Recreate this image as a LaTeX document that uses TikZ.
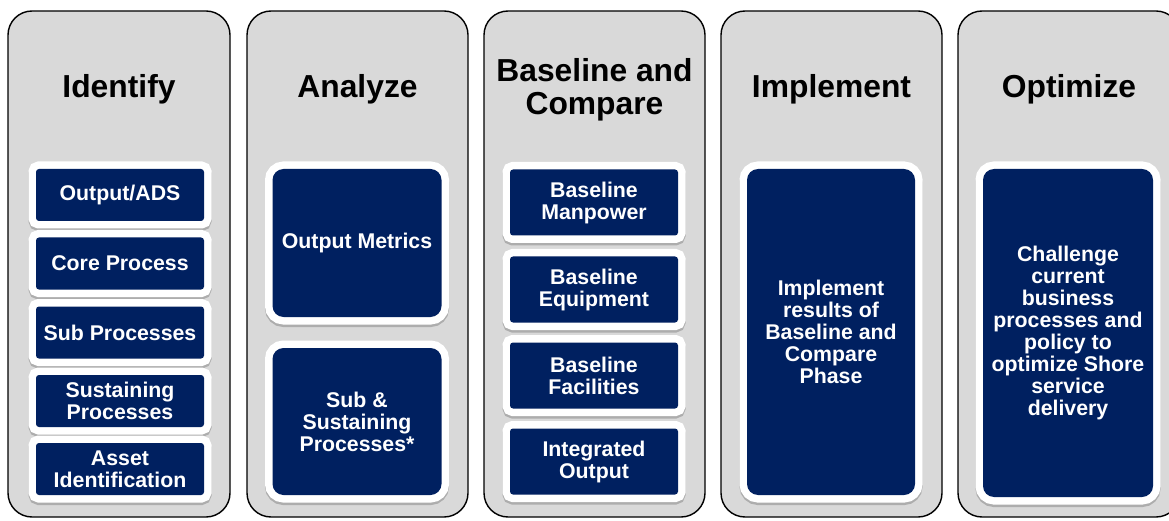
\documentclass[tikz,border=0pt]{standalone}
\usepackage{fontspec}
\setmainfont{Liberation Sans}
\definecolor{navy}{RGB}{0,32,96}
\definecolor{panelgray}{RGB}{217,217,217}
\begin{document}
\begin{tikzpicture}[x=1pt,y=-1pt,
  panel/.style={draw=black, line width=1.4pt, fill=panelgray, rounded corners=24pt},
  heading/.style={font=\fontsize{31.8}{33.5}\selectfont\bfseries, align=center, text=black, inner sep=0pt},
  item/.style={fill=navy, text=white, font=\fontsize{21.3}{22}\selectfont\bfseries,
     align=center, inner sep=0pt, rounded corners=3pt,
     preaction={draw=black, opacity=0.2, line width=15pt, transform canvas={yshift=-2.5pt}},
     preaction={draw=white, line width=15pt}},
  small/.style={item, minimum width=168pt, minimum height=52pt},
  mid/.style={item, minimum width=168pt, minimum height=66pt},
  tall/.style={item, rounded corners=11pt},
]
\useasboundingbox (0,0) rectangle (1169,521);
\clip (0,0) rectangle (1169,521);

% phase panels
\draw[panel] (8,11) rectangle (230,517);
\draw[panel] (247,11) rectangle (468,517);
\draw[panel] (484,11) rectangle (705,517);
\draw[panel] (721,11) rectangle (942,517);
\draw[panel] (958,11) rectangle (1180,517);

% phase headings
\node[heading, anchor=base] (hIdentify) at (119,98) {Identify};
\node[heading, anchor=base] (hAnalyze) at (357.5,98) {Analyze};
\node[heading] (hBaseline) at (594.5,90) {Baseline and\\Compare};
\node[heading, anchor=base] (hImplement) at (831.5,98) {Implement};
\node[heading, anchor=base] (hOptimize) at (1069,98) {Optimize};

% Identify
\node[small] (ads) at (120,195) {Output/ADS};
\node[small] (core) at (120,263.5) {Core Process};
\node[small] (sub) at (120,332.5) {Sub Processes};
\node[small] (sust) at (120,401) {Sustaining\\Processes};
\node[small] (asset) at (120,469) {Asset\\Identification};

% Analyze
\node[tall, minimum width=169pt, minimum height=148pt] (metrics) at (357,243) {Output Metrics};
\node[tall, minimum width=169pt, minimum height=147pt] (subsust) at (357,421.5) {Sub \&\\Sustaining\\Processes*};

% Baseline and Compare
\node[mid] (manpower) at (594,202.5) {Baseline\\Manpower};
\node[mid] (equipment) at (594,289.5) {Baseline\\Equipment};
\node[mid] (facilities) at (594,375.5) {Baseline\\Facilities};
\node[mid] (integrated) at (594,461.5) {Integrated\\Output};

% Implement
\node[tall, minimum width=168pt, minimum height=326pt] (impl) at (831,332)
  {Implement\\results of\\Baseline and\\Compare\\Phase};

% Optimize
\node[tall, minimum width=170pt, minimum height=328pt] (opt) at (1068,333)
  {Challenge\\current\\business\\processes and\\policy to\\optimize Shore\\service\\delivery};
\end{tikzpicture}
\end{document}
